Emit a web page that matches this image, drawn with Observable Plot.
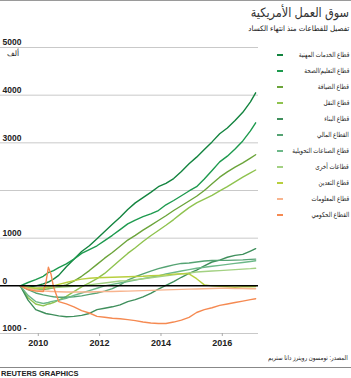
<!DOCTYPE html>
<html><head><meta charset="utf-8">
<script src="https://cdn.jsdelivr.net/npm/d3@7"></script>
<script src="https://cdn.jsdelivr.net/npm/@observablehq/plot@0.6"></script>
<style>
body{margin:0;background:#fff;}
#wrap{position:relative;width:351px;height:378px;overflow:hidden;font-family:"Liberation Sans","DejaVu Sans",sans-serif;color:#222;}
#wrap svg{position:absolute;left:0;top:0;}
.abs{position:absolute;white-space:nowrap;line-height:1;}
.rtl{direction:rtl;text-align:right;transform-origin:right center;}
</style></head><body><div id="wrap"></div>
<script>
const dates = ["2009-06","2009-09","2009-12","2010-03","2010-04","2010-05","2010-06","2010-07","2010-09","2010-12",
"2011-03","2011-06","2011-09","2011-12","2012-03","2012-06","2012-09","2012-12","2013-03","2013-06","2013-09","2013-12",
"2014-03","2014-06","2014-09","2014-12","2015-03","2015-06","2015-09","2015-12","2016-03","2016-06","2016-09","2016-12","2017-02"];

const sectors = ["قطاع الخدمات المهنية","قطاع التعليم/الصحة","قطاع الضيافة","قطاع النقل","قطاع البناء","القطاع المالي","قطاع الصناعات التحويلية","قطاعات أخرى","قطاع التعدين","قطاع المعلومات","القطاع الحكومي"];
const colors = ["#13843f","#1d9a4e","#6ba43a","#8fc34f","#3f8f5c","#55a373","#6cb888","#a3d183","#b8cf3e","#f8b48e","#f58a52"];

const professional = [0,-30,0,40,60,80,110,140,220,400,560,720,840,990,1140,1290,1440,1600,1740,1850,1960,2080,2150,2250,2400,2560,2700,2860,3020,3190,3310,3470,3640,3860,4050];
const eduHealth = [0,70,130,200,240,280,300,320,380,460,560,680,760,840,950,1060,1180,1300,1380,1450,1510,1580,1700,1790,1890,1990,2080,2240,2420,2600,2720,2870,3040,3250,3420];
const hospitality = [0,-60,-90,-80,-70,-60,-50,-40,-20,20,100,200,320,450,580,700,830,960,1060,1170,1270,1370,1470,1580,1680,1780,1880,2000,2140,2280,2390,2490,2580,2680,2750];
const transport = [0,-250,-380,-420,-400,-380,-370,-350,-300,-220,-120,-20,60,150,260,400,540,680,800,930,1050,1160,1270,1390,1520,1640,1740,1820,1900,1990,2080,2180,2280,2370,2430];
const construction = [0,-300,-500,-560,-580,-590,-600,-610,-630,-650,-640,-620,-580,-500,-470,-440,-400,-330,-290,-230,-160,-70,10,90,180,260,330,420,500,540,600,640,660,730,780];
const financial = [0,-80,-150,-190,-200,-210,-220,-230,-240,-240,-230,-210,-180,-150,-110,-60,20,120,190,250,310,360,400,440,470,480,500,520,530,535,535,540,545,555,560];
const manufacturing = [0,-200,-330,-370,-360,-350,-330,-320,-300,-260,-200,-150,-100,-50,0,30,60,90,120,150,180,210,250,280,310,340,370,390,410,430,450,470,490,510,525];
const otherSectors = [0,-30,-50,-50,-45,-40,-40,-35,-30,-20,-10,0,20,40,60,80,100,110,130,150,170,190,210,230,250,270,290,300,310,320,330,340,350,360,370];
const mining = [0,-40,-50,-40,-30,-20,-10,0,30,70,110,140,160,170,175,180,185,190,195,200,210,220,230,245,255,250,150,20,0,-10,-20,-30,-20,-20,-15];
const information = [0,-60,-90,-110,-110,-115,-120,-120,-125,-130,-130,-130,-130,-125,-120,-120,-115,-110,-105,-100,-95,-90,-85,-80,-75,-70,-65,-60,-55,-50,-50,-55,-55,-60,-60];
const government = [0,-80,-110,-120,60,390,250,-20,-330,-380,-440,-520,-570,-640,-660,-680,-690,-710,-730,-760,-780,-790,-790,-760,-720,-660,-560,-500,-460,-410,-380,-350,-320,-290,-270];
const seriesValues = [professional,eduHealth,hospitality,transport,construction,financial,manufacturing,otherSectors,mining,information,government];

const yGrid = [-1000,1000,2000,3000,4000,5000];
const yLabelValues = [-1000,0,1000,3000,4000,5000];
const yLabels = ["1000 -","0","1000","3000","4000","5000"];
const xTickYears = ["2010","2012","2014","2016"];

const titleText = "سوق العمل الأمريكية";
const subtitleText = "تفصيل للقطاعات منذ انتهاء الكساد";
const unitText = "ألف";
const sourceText = "المصدر: تومسون رويترز داتا ستريم";
const creditText = "REUTERS GRAPHICS";

const rows = sectors.flatMap((s,i) => dates.map((d,j) => ({date:new Date(d), value:seriesValues[i][j], sector:s})));
const tickDates = xTickYears.map(y => new Date(y + "-01-01"));

const chart = Plot.plot({
  width:351, height:378,
  marginTop:47, marginBottom:45, marginLeft:0, marginRight:93,
  x:{type:"utc", domain:[new Date("2008-10-08"), new Date("2017-03-07")], axis:null},
  y:{domain:[-1000,5000], axis:null},
  color:{domain:sectors, range:colors},
  style:{background:"transparent", fontFamily:"Liberation Sans, DejaVu Sans, sans-serif"},
  marks:[
    Plot.ruleY(yGrid, {stroke:"#c9c9c9", strokeWidth:1}),
    Plot.axisX(tickDates, {tickFormat:d3.utcFormat("%Y"), tickSize:3, tickPadding:3, stroke:"#aaa", fill:"#222", fontWeight:"bold", fontSize:9}),
    Plot.line(rows, {x:"date", y:"value", z:"sector", stroke:"sector", strokeWidth:1.4}),
    Plot.ruleY([0], {stroke:"#000", strokeWidth:1.5}),
    Plot.text(yLabelValues, {y:d=>d, text:(d,i)=>yLabels[i], frameAnchor:"left", textAnchor:"start", dx:2, dy:-5, fontWeight:"bold", fontSize:8.5, fill:"#222"})
  ]
});

const wrap = document.getElementById("wrap");
wrap.appendChild(chart);

function addDiv(text, css, cls){
  const el = document.createElement("div");
  el.className = "abs " + (cls||"");
  el.textContent = text;
  el.style.cssText = css;
  wrap.appendChild(el);
  return el;
}
addDiv("", "left:0;top:0;width:351px;height:1px;background:#9a9a9a;");
addDiv(titleText, "right:2px;top:6px;font-size:13px;color:#333;transform:scaleX(0.87);", "rtl");
addDiv(subtitleText, "right:2px;top:25px;font-size:7.5px;color:#222;transform:scaleX(0.95);", "rtl");
addDiv(unitText, "left:7px;top:50px;font-size:7.5px;color:#222;", "rtl");
sectors.forEach((s,i) => {
  const cy = 55 + 16*i;
  addDiv("", `left:277px;top:${cy-1}px;width:6px;height:2px;background:${colors[i]};`);
  addDiv(s, `right:2px;top:${cy-4}px;font-size:7px;color:#222;transform:scaleX(0.8);`, "rtl");
});
addDiv(sourceText, "right:3px;top:355px;font-size:6.5px;color:#222;transform:scaleX(0.85);", "rtl");
addDiv("", "left:0;top:367px;width:351px;height:1px;background:#888;");
addDiv(creditText, "left:1px;top:370px;font-size:7.5px;font-weight:bold;color:#222;");
</script></body></html>
